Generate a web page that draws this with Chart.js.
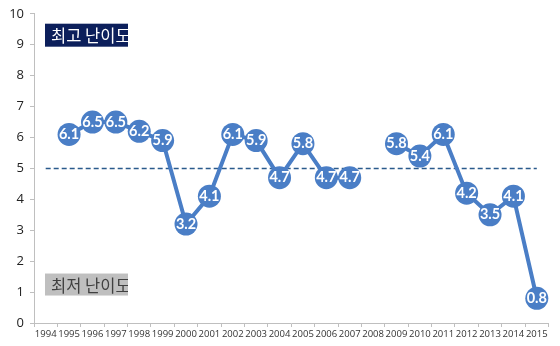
<!DOCTYPE html>
<html>
<head>
<meta charset="utf-8">
<script src="https://cdn.jsdelivr.net/npm/chart.js@4/dist/chart.umd.min.js"></script>
<style>
  html, body { margin: 0; padding: 0; background: #fff; }
</style>
</head>
<body>
<canvas id="myChart" width="560" height="346"></canvas>
<script>
var years = ["1994","1995","1996","1997","1998","1999","2000","2001","2002","2003","2004",
             "2005","2006","2007","2008","2009","2010","2011","2012","2013","2014","2015"];
var nanido = [null,6.1,6.5,6.5,6.2,5.9,3.2,4.1,6.1,5.9,4.7,
              5.8,4.7,4.7,null,5.8,5.4,6.1,4.2,3.5,4.1,0.8];
var kijun = [5,5,5,5,5,5,5,5,5,5,5,5,5,5,5,5,5,5,5,5,5,5];
var yTicks = [0,1,2,3,4,5,6,7,8,9,10];

var lineBlue = "#4a7ec6";

// white numbers inside each marker
var valueLabels = {
  id: "valueLabels",
  afterDatasetsDraw: function(chart) {
    var ctx = chart.ctx;
    var meta = chart.getDatasetMeta(0);
    ctx.save();
    ctx.fillStyle = "#fff";
    ctx.font = "bold 14.5px Lato, sans-serif";
    ctx.textAlign = "center";
    ctx.textBaseline = "middle";
    meta.data.forEach(function(pt, i) {
      if (nanido[i] == null) return;
      ctx.fillText(nanido[i].toFixed(1), pt.x, pt.y);
    });
    ctx.restore();
  }
};

// the two caption boxes
function captionBox(ctx, x, top, h, bg, fg, text) {
  ctx.save();
  ctx.fillStyle = bg;
  ctx.fillRect(x, top, 83, h);
  ctx.beginPath(); ctx.rect(x, top, 83, h); ctx.clip();
  ctx.font = "16.5px 'Noto Sans CJK KR', sans-serif";
  ctx.textBaseline = "middle";
  ctx.fillStyle = fg;
  ctx.fillText(text, x + 6, top + h / 2 + 1);
  ctx.restore();
}

var boxes = {
  id: "boxes",
  afterDraw: function(chart) {
    var y = chart.scales.y;
    captionBox(chart.ctx, 45, y.getPixelForValue(9.68), 23, "#0c1f5b", "#fff", "최고 난이도");
    captionBox(chart.ctx, 45, y.getPixelForValue(1.6), 22, "#bfbfbf", "#404040", "최저 난이도");
  }
};

new Chart(document.getElementById("myChart").getContext("2d"), {
  type: "line",
  data: {
    labels: years,
    datasets: [{
      data: nanido,
      borderColor: lineBlue,
      backgroundColor: lineBlue,
      borderWidth: 4,
      pointRadius: 11.5,
      pointBackgroundColor: lineBlue,
      pointBorderColor: lineBlue,
      pointBorderWidth: 0,
      spanGaps: false,
      tension: 0
    }, {
      data: kijun,
      borderColor: "#2a5a8c",
      borderWidth: 1.5,
      borderDash: [5, 3],
      pointRadius: 0,
      fill: false
    }]
  },
  options: {
    responsive: false,
    animation: false,
    maintainAspectRatio: false,
    layout: { padding: { top: 12, right: 9, left: 0, bottom: 0 } },
    plugins: { legend: { display: false }, tooltip: { enabled: false } },
    scales: {
      x: {
        offset: true,
        afterFit: function(s) { s.height = 23; },
        grid: { display: true, drawOnChartArea: false, offset: true, tickLength: 4, color: "#bfbfbf" },
        border: { color: "#bfbfbf" },
        ticks: { color: "#333", font: { size: 9.5, family: "'Open Sans', sans-serif" }, maxRotation: 0, autoSkip: false, padding: 2 }
      },
      y: {
        min: 0, max: 10,
        afterFit: function(s) { s.width = 34; },
        afterBuildTicks: function(s) { s.ticks = yTicks.map(function(v) { return { value: v }; }); },
        grid: { display: true, drawOnChartArea: false, tickLength: 4, color: "#bfbfbf" },
        border: { color: "#bfbfbf" },
        ticks: { color: "#222", font: { size: 13, family: "'Open Sans', sans-serif" }, padding: 6 }
      }
    }
  },
  plugins: [valueLabels, boxes]
});
</script>
</body>
</html>
